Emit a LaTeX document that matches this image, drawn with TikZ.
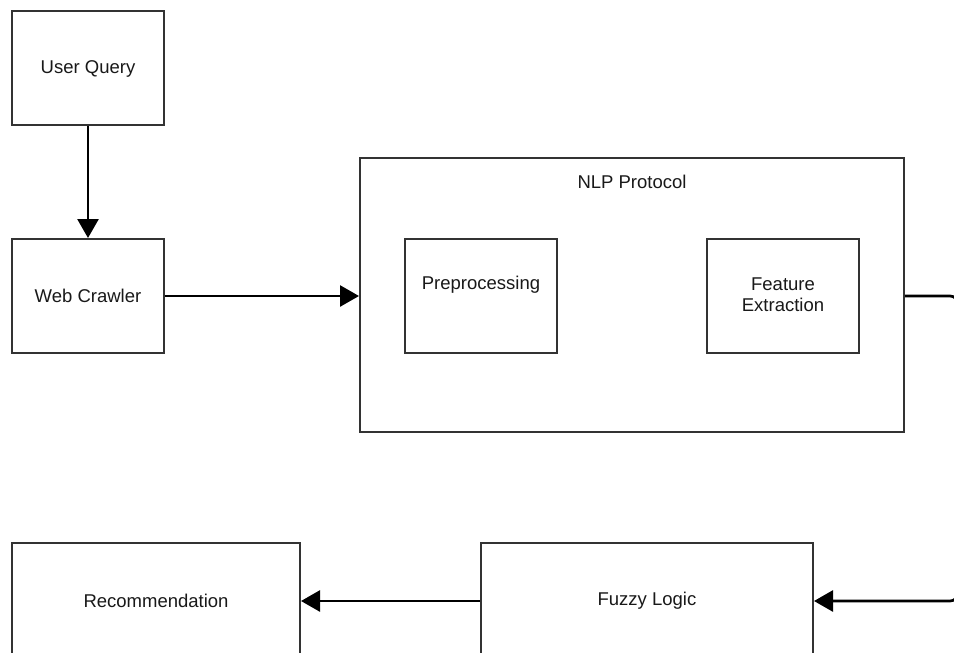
\documentclass[tikz,border=0pt]{standalone}
\usepackage{fontspec}
\setmainfont{Liberation Sans}
\usetikzlibrary{arrows.meta}
\begin{document}
\begin{tikzpicture}[x=1pt,y=-1pt,
  box/.style={draw=black!80, line width=2pt, fill=white, inner sep=0pt},
  lbl/.style={font=\fontsize{18.5}{21}\selectfont, text=black!90, align=center, inner sep=0pt},
  conn/.style={draw=black, line width=2.7pt, -{Triangle[length=19pt,width=21pt]}}]
\useasboundingbox (0,0) rectangle (954,653);
\clip (0,0) rectangle (954,653);
\fill[white] (0,0) rectangle (954,653);
% boxes
\node[box, minimum width=152pt, minimum height=114pt] (uq) at (88,68) {};
\node[lbl] (uqt) at (88,69) {User Query};
\node[box, minimum width=152pt, minimum height=114pt] (wc) at (88,296) {};
\node[lbl] (wct) at (88,296) {Web Crawler};
\node[box, minimum width=544pt, minimum height=274pt] (nlp) at (632,295) {};
\node[lbl] (nlpt) at (632,182) {NLP Protocol};
\node[box, minimum width=152pt, minimum height=114pt] (pre) at (481,296) {};
\node[lbl] (pret) at (481,285) {Preprocessing};
\node[box, minimum width=152pt, minimum height=114pt] (fe) at (783,296) {};
\node[lbl] (fet) at (783,295) {Feature\\Extraction};
\node[box, minimum width=288pt, minimum height=116pt] (rec) at (156,601) {};
\node[lbl] (rect) at (156,601) {Recommendation};
\node[box, minimum width=332pt, minimum height=116pt] (fl) at (647,601) {};
\node[lbl] (flt) at (647,601) {Fuzzy Logic};
% connectors
\coordinate (c1) at (958,296);
\coordinate (c2) at (958,601);
\draw[conn] (uq.south) -- (wc.north);
\draw[conn] (wc.east) -- (wc.east -| nlp.west);
\draw[conn, rounded corners=8pt] (nlp.east |- wc.east) -- (c1) -- (c2) -- (fl.east);
\draw[conn] (fl.west) -- (rec.east);
\end{tikzpicture}
\end{document}
